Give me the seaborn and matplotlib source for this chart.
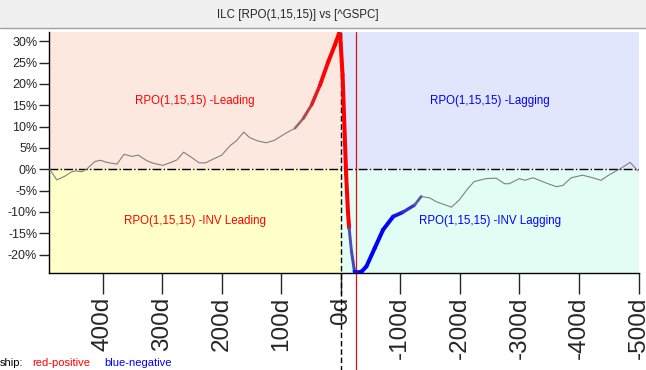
import numpy as np
import pandas as pd
import matplotlib
matplotlib.use("Agg")
import matplotlib.pyplot as plt
from matplotlib.collections import LineCollection
from matplotlib.patches import Rectangle
import seaborn as sns

# lag in days (positive = leading) and ILC value in %
lag = [489, 477, 463, 452, 444, 435, 427, 413, 404, 393, 376, 364, 351, 340, 326, 315,
       299, 287, 275, 264, 251, 238, 227, 214, 200, 186, 175, 163, 153, 139, 125, 111,
       100, 89, 77, 63, 49, 35, 21, 10, 3, 1, -3, -7, -9, -12, -14, -18, -23, -30, -35,
       -43, -57, -71, -88, -104, -124, -135, -149, -160, -186, -199, -213, -224, -244,
       -261, -275, -283, -300, -309, -323, -346, -362, -373, -387, -406, -423, -437,
       -451, -468, -486, -499]
ilc = [0.0, -2.5, -1.6, -0.6, -0.4, -0.6, 0.0, 1.8, 2.1, 1.6, 1.2, 3.5, 3.0, 3.3, 2.0, 1.4,
       0.9, 1.5, 2.2, 4.0, 2.8, 1.5, 1.5, 2.4, 3.3, 5.5, 6.7, 8.7, 7.4, 6.6, 6.2, 6.8,
       7.8, 8.7, 9.6, 11.9, 15.1, 19.7, 25.2, 29.1, 31.8, 31.4, 22.1, 6.5, -1.3, -9.9,
       -13.8, -19.3, -24.0, -24.2, -24.0, -22.8, -18.5, -14.2, -11.1, -10.1, -8.4, -6.4,
       -6.7, -7.6, -8.9, -7.2, -4.6, -2.9, -2.2, -2.1, -3.4, -3.4, -2.2, -2.6, -2.0,
       -3.3, -4.1, -3.8, -2.0, -1.4, -2.0, -2.6, -1.3, 0.0, 1.6, -0.4]
# relationship strength: +1 positive (red), -1 negative (blue), 0 none
relation = [0] * 34 + [0.15, 0.45, 0.75, 0.95, 1, 1, 1, 1, 1, 1, 1, 1,
                       -0.4, -0.45, -0.9, -1, -1, -1, -1, -1, -0.85, -0.6, -0.3] + [0] * 25

xticks = [400, 300, 200, 100, 0, -100, -200, -300, -400, -500]
xtick_labels = [f"{t}d" for t in xticks]
yticks = [30, 25, 20, 15, 10, 5, 0, -5, -10, -15, -20]
marker_lag = -25

quad_labels = ["RPO(1,15,15) -Leading", "RPO(1,15,15) -Lagging",
               "RPO(1,15,15) -INV Leading", "RPO(1,15,15) -INV Lagging"]

df = pd.DataFrame({"lag": lag, "ilc": ilc, "relation": relation})

sns.set_style("white")
plt.rcParams["font.family"] = ["Liberation Sans", "DejaVu Sans"]

fig = plt.figure(figsize=(6.46, 3.70), dpi=100)
ax = fig.add_axes([0.0759, 0.2614, 0.9125, 0.6513])

xmin, xmax = 490, -500
ymin, ymax = -24.4, 32.1
ax.set_xlim(xmin, xmax)
ax.set_ylim(ymin, ymax)

# quadrant backgrounds
ax.fill_between([xmin, 0], 0, ymax, color="#FDE8E0", lw=0, zorder=0)
ax.fill_between([0, xmax], 0, ymax, color="#E1E6FC", lw=0, zorder=0)
ax.fill_between([xmin, 0], ymin, 0, color="#FFFFC8", lw=0, zorder=0)
ax.fill_between([0, xmax], ymin, 0, color="#E2FDF4", lw=0, zorder=0)

ax.text((xmin + 0) / 2, ymax / 2, quad_labels[0], color="red", ha="center", va="center", fontsize=8.3)
ax.text((xmax + 0) / 2, ymax / 2, quad_labels[1], color="blue", ha="center", va="center", fontsize=8.3)
ax.text((xmin + 0) / 2, ymin / 2, quad_labels[2], color="red", ha="center", va="center", fontsize=8.3)
ax.text((xmax + 0) / 2, ymin / 2, quad_labels[3], color="blue", ha="center", va="center", fontsize=8.3)

ax.axhline(0, color="black", lw=1, ls="-.", zorder=2)
ax.axvline(0, ymin=-0.41, ymax=1, color="black", lw=1, ls=(0, (4, 2)), clip_on=False, zorder=2)
ax.axvline(marker_lag, ymin=-0.41, ymax=1, color="#E01010", lw=0.9, clip_on=False, zorder=2)

# thin base line
sns.lineplot(data=df, x="lag", y="ilc", sort=False, color="#808080", lw=0.8, ax=ax, zorder=3)

# thick coloured part by relationship
gray = np.array([0.5, 0.5, 0.5])
red = np.array([1.0, 0.0, 0.0])
blue = np.array([0.0, 0.0, 1.0])
pts = df[["lag", "ilc"]].to_numpy()
segs, cols, widths = [], [], []
for i in range(len(pts) - 1):
    r = df["relation"].iloc[i]
    if r == 0:
        continue
    target = red if r > 0 else blue
    segs.append(pts[i:i + 2])
    cols.append(gray * (1 - abs(r)) + target * abs(r))
    widths.append(1.6 + 1.3 * abs(r))
ax.add_collection(LineCollection(segs, colors=cols, linewidths=widths, capstyle="round", zorder=4))

ax.set_xticks(xticks)
ax.set_xticklabels(xtick_labels, rotation=90, fontsize=17.5)
ax.set_yticks(yticks)
ax.set_yticklabels([f"{t}%" for t in yticks], fontsize=9)
ax.tick_params(axis="x", direction="out", length=15, width=1, pad=2, bottom=True)
ax.tick_params(axis="y", direction="out", length=7.5, width=1, pad=1, left=True)
ax.set_xlabel("")
ax.set_ylabel("")
for s in ["top", "right"]:
    ax.spines[s].set_visible(False)
for s in ["left", "bottom"]:
    ax.spines[s].set_color("black")
    ax.spines[s].set_linewidth(1)

# title bar
fig.patches.append(Rectangle((0, 1 - 28 / 370), 1, 28 / 370, transform=fig.transFigure,
                             facecolor="#F0F0F0", edgecolor="none", zorder=0))
fig.add_artist(plt.Line2D([0, 1], [1 - 28 / 370] * 2, transform=fig.transFigure, color="#A0A0A0", lw=1))
fig.text(298 / 646, 1 - 15 / 370, "ILC [RPO(1,15,15)] vs [^GSPC]", ha="center", va="center", fontsize=8.3)

# legend note at bottom
fig.text(0 / 646, 1 - 363 / 370, "ship:", ha="left", va="center", fontsize=8, color="black")
fig.text(32 / 646, 1 - 363 / 370, "red-positive", ha="left", va="center", fontsize=8, color="red")
fig.text(104 / 646, 1 - 363 / 370, "blue-negative", ha="left", va="center", fontsize=8, color="blue")

fig.savefig("out.png", dpi=100)
